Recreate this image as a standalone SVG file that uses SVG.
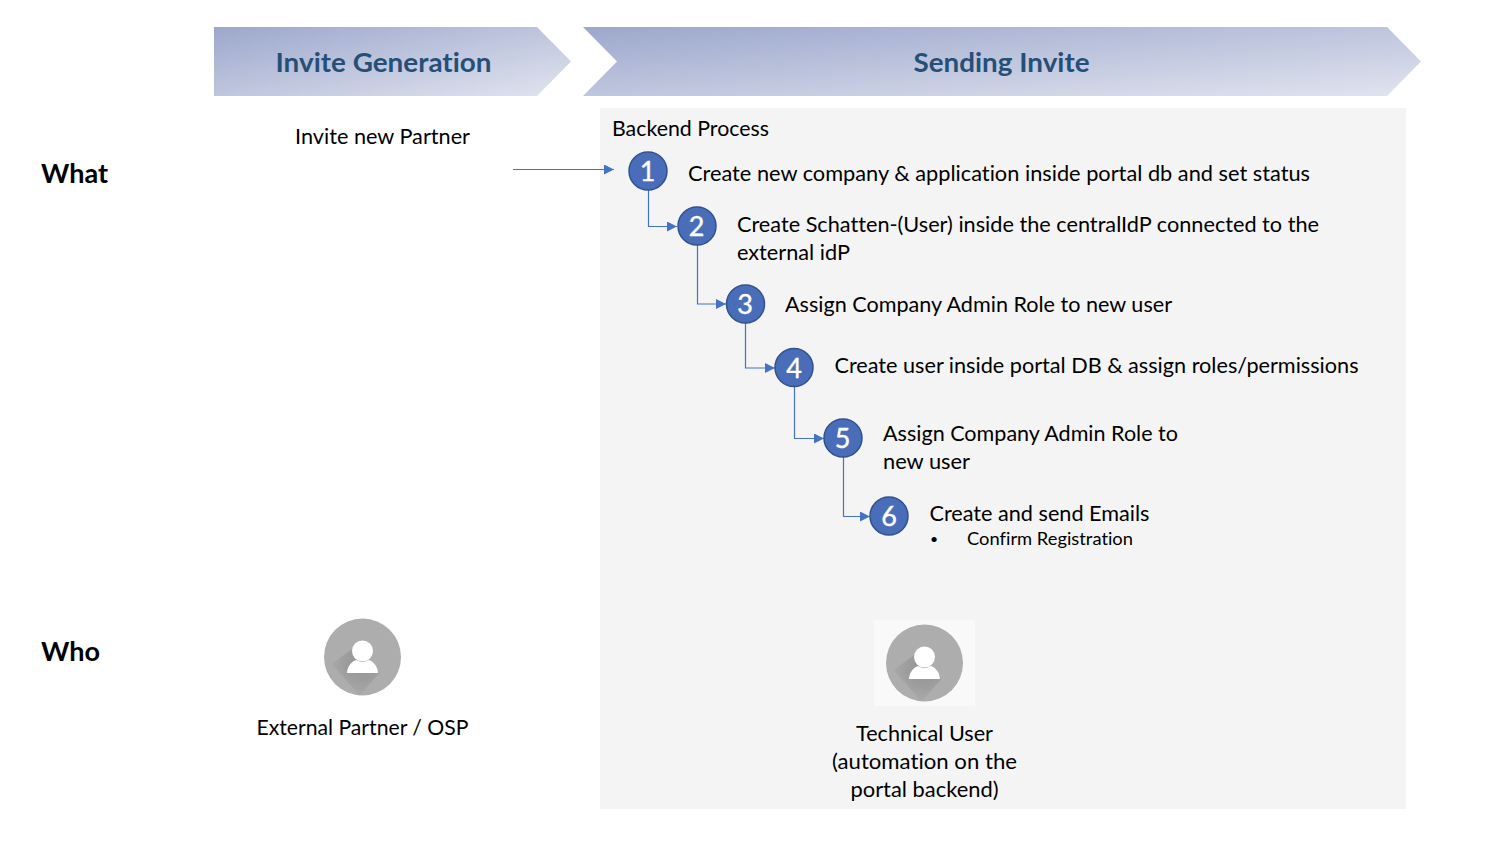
<svg xmlns="http://www.w3.org/2000/svg" width="1488" height="858" viewBox="0 0 1488 858">
<style>
text{font-family:Lato,"Open Sans","Liberation Sans",sans-serif;fill:#000;font-variant-ligatures:none}
.t{font-size:21.5px}
.s{font-size:18px}
.h{font-size:26px;font-weight:700;fill:#264f78;text-anchor:middle}
.b{font-size:27px;font-weight:700}
.m{text-anchor:middle}
.n{font-size:27px;fill:#fff;text-anchor:middle;stroke:#fff;stroke-width:.4}
.c{fill:#4a6dba;stroke:#2f528f;stroke-width:1.5}
.l{fill:none;stroke:#4472c4;stroke-width:1.2}
</style>
<defs>
<linearGradient id="g" x1="0" y1="0" x2="1" y2="1"><stop offset="0" stop-color="#9ca7cc"/><stop offset="1" stop-color="#e1e4ef"/></linearGradient>
<radialGradient id="sh" gradientUnits="userSpaceOnUse" cx="0" cy="6" r="36"><stop offset="0" stop-color="#949494"/><stop offset=".45" stop-color="#9c9c9c"/><stop offset="1" stop-color="#adadad"/></radialGradient>
<marker id="a" viewBox="0 0 10 10" refX="10" refY="5" markerWidth="10" markerHeight="10" markerUnits="userSpaceOnUse" orient="auto"><path d="M0 0L10 5L0 10Z" fill="#4472c4"/></marker>
<g id="person">
<circle cx="0" cy="0" r="38.5" fill="#adadad"/>
<path d="M-9 -9L-31 7L-3 38.500L17 16Z" fill="url(#sh)"/>
<circle cx="0" cy="-6" r="10.500" fill="#fff"/>
<path d="M-15.500 16C-15 8-10 4-6 3Q0 7 6 3C10 4 15 8 15.500 16Z" fill="#fff"/>
</g>
</defs>
<rect width="1488" height="858" fill="#fff"/>
<g id="panel"><rect x="600" y="108" width="806" height="701" fill="#f4f4f4"/><text class="t" x="612" y="136" textLength="157" lengthAdjust="spacingAndGlyphs">Backend Process</text></g>
<g id="stage-generation"><polygon points="214,27 537,27 571,61.500 537,96 214,96" fill="url(#g)"/><text class="h" x="383.500" y="72" textLength="216" lengthAdjust="spacingAndGlyphs">Invite Generation</text></g>
<g id="stage-sending"><polygon points="583,27 1387,27 1421,61.500 1387,96 583,96 617,61.500" fill="url(#g)"/><text class="h" x="1001.500" y="72" textLength="176" lengthAdjust="spacingAndGlyphs">Sending Invite</text></g>
<g id="what"><text class="b" x="41" y="183" textLength="67" lengthAdjust="spacingAndGlyphs">What</text></g>
<g id="who"><text class="b" x="41" y="661" textLength="59" lengthAdjust="spacingAndGlyphs">Who</text></g>
<g id="invite"><text class="t m" x="382.500" y="144" textLength="175" lengthAdjust="spacingAndGlyphs">Invite new Partner</text></g>
<g id="connectors">
<path class="l" d="M513 169.500H614" marker-end="url(#a)"/>
<path class="l" d="M648.500 190V226.500H677" marker-end="url(#a)"/>
<path class="l" d="M697.500 244V304H726" marker-end="url(#a)"/>
<path class="l" d="M745.500 322V368H775" marker-end="url(#a)"/>
<path class="l" d="M794.500 385V438.500H824" marker-end="url(#a)"/>
<path class="l" d="M843.500 456V516.500H870" marker-end="url(#a)"/>
</g>
<g id="step1"><circle class="c" cx="648" cy="171" r="19"/><text class="n" x="647.500" y="181">1</text><text class="t" x="688" y="181" textLength="622" lengthAdjust="spacingAndGlyphs">Create new company &amp; application inside portal db and set status</text></g>
<g id="step2"><circle class="c" cx="697" cy="226" r="19"/><text class="n" x="696.500" y="236">2</text><text class="t" x="737" y="232" textLength="582" lengthAdjust="spacingAndGlyphs">Create Schatten-(User) inside the centralIdP connected to the</text><text class="t" x="737" y="260" textLength="113" lengthAdjust="spacingAndGlyphs">external idP</text></g>
<g id="step3"><circle class="c" cx="745.500" cy="304" r="19"/><text class="n" x="745" y="314">3</text><text class="t" x="785" y="312" textLength="387" lengthAdjust="spacingAndGlyphs">Assign Company Admin Role to new user</text></g>
<g id="step4"><circle class="c" cx="794" cy="367.500" r="19"/><text class="n" x="794" y="377.500">4</text><text class="t" x="834.500" y="373" textLength="524" lengthAdjust="spacingAndGlyphs">Create user inside portal DB &amp; assign roles/permissions</text></g>
<g id="step5"><circle class="c" cx="843" cy="438" r="19"/><text class="n" x="842.500" y="448">5</text><text class="t" x="883" y="441" textLength="295" lengthAdjust="spacingAndGlyphs">Assign Company Admin Role to</text><text class="t" x="883" y="469" textLength="87" lengthAdjust="spacingAndGlyphs">new user</text></g>
<g id="step6"><circle class="c" cx="889" cy="516" r="19"/><text class="n" x="889" y="526">6</text><text class="t" x="929.500" y="521" textLength="220" lengthAdjust="spacingAndGlyphs">Create and send Emails</text><text class="s" x="930" y="544" style="font-size:14px">•</text><text class="s" x="967" y="545" textLength="166" lengthAdjust="spacingAndGlyphs">Confirm Registration</text></g>
<g id="external-partner"><use href="#person" x="362.500" y="657"/><text class="t m" x="362.500" y="735" textLength="212" lengthAdjust="spacingAndGlyphs">External Partner / OSP</text></g>
<g id="technical-user"><rect x="874" y="620" width="101" height="86" fill="#f9f9f9"/><use href="#person" x="924.500" y="663"/><text class="t m" x="924.500" y="741" textLength="137" lengthAdjust="spacingAndGlyphs">Technical User</text><text class="t m" x="924.500" y="769" textLength="185" lengthAdjust="spacingAndGlyphs">(automation on the</text><text class="t m" x="924.500" y="797" textLength="148" lengthAdjust="spacingAndGlyphs">portal backend)</text></g>
</svg>
